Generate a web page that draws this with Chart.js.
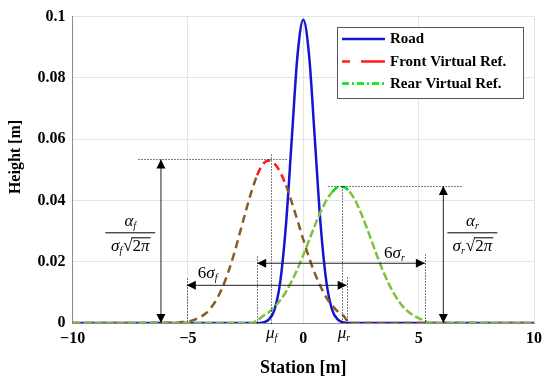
<!DOCTYPE html>
<html>
<head>
<meta charset="utf-8">
<script src="https://cdn.jsdelivr.net/npm/chart.js@4.4.1/dist/chart.umd.min.js"></script>
<style>
  html, body { margin: 0; padding: 0; background: #fff; }
  #wrap { width: 550px; height: 383px; }
</style>
</head>
<body>
<div id="wrap"><canvas id="chart" width="550" height="383"></canvas></div>
<script>
// values (station in m, height in m)
const stations = [-10, -5.5, -5.25, -5, -4.75, -4.5, -4.25, -4, -3.75, -3.5, -3.25, -3, -2.75, -2.5, -2.25,
  -2, -1.75, -1.5, -1.25, -1, -0.75, -0.5, -0.25, 0, 0.25, 0.5, 0.75, 1, 1.25, 1.5, 1.75,
  2, 2.25, 2.5, 2.75, 3, 3.25, 3.5, 3.75, 4, 4.25, 4.5, 4.75, 5, 5.25, 5.5, 10];

const road = [0, 0, 0, 0, 0, 0, 0, 0, 0, 0, 0, 0, 0, 0, 0,
  0, 0.0002, 0.0011, 0.0043, 0.0134, 0.0321, 0.0600, 0.0874, 0.0990, 0.0874, 0.0600, 0.0321, 0.0134, 0.0043, 0.0011, 0.0002,
  0, 0, 0, 0, 0, 0, 0, 0, 0, 0, 0, 0, 0, 0, 0, 0];

const front = [0, 0.0001, 0.0003, 0.0005, 0.0010, 0.0018, 0.0030, 0.0050, 0.0078, 0.0117, 0.0167, 0.0226, 0.0294, 0.0363, 0.0428,
  0.0482, 0.0518, 0.0530, 0.0520, 0.0492, 0.0449, 0.0394, 0.0334, 0.0272, 0.0214, 0.0162, 0.0119, 0.0083, 0.0057, 0.0037, 0.0023,
  0, 0, 0, 0, 0, 0, 0, 0, 0, 0, 0, 0, 0, 0, 0, 0];

const rear = [0, 0, 0, 0, 0, 0, 0, 0, 0, 0, 0, 0, 0, 0, 0,
  0.0008, 0.0023, 0.0035, 0.0052, 0.0074, 0.0102, 0.0137, 0.0177, 0.0222, 0.0270, 0.0318, 0.0362, 0.0400, 0.0427, 0.0443, 0.0444,
  0.0429, 0.0400, 0.0359, 0.0311, 0.0260, 0.0209, 0.0162, 0.0121, 0.0087, 0.0060, 0.0040, 0.0026, 0.0016, 0.0008, 0, 0];

const xTicks = [-10, -5, 0, 5, 10];
const yTicks = [0, 0.02, 0.04, 0.06, 0.08, 0.1];

// annotation anchors (data units)
const muF = -1.42, muR = 1.69;
const peakF = 0.0534, peakR = 0.0447;
const spanF = [-5.05, 1.88], spanFy = 0.0123;
const spanR = [-2.0, 5.27], spanRy = 0.0195;

const serif = '"Liberation Serif", "DejaVu Serif", serif';
const RED = '#ff1a1a', BROWN = '#8a5a24', BLUE = '#1414d2', GREEN = '#00e01a', YGREEN = '#7cc23c';

const pts = arr => stations.map((x, i) => ({ x: x, y: arr[i] }));

const annot = {
  id: 'annot',
  afterDatasetsDraw(chart) {
    const c = chart.ctx, xs = chart.scales.x, ys = chart.scales.y;
    const X = v => xs.getPixelForValue(v), Y = v => ys.getPixelForValue(v);
    c.save();

    const dotted = (x1, y1, x2, y2) => {
      c.beginPath(); c.setLineDash([1, 2]); c.strokeStyle = '#000'; c.lineWidth = 1;
      c.moveTo(Math.round(x1) + 0.5, Math.round(y1) + 0.5); c.lineTo(Math.round(x2) + 0.5, Math.round(y2) + 0.5);
      c.stroke(); c.setLineDash([]);
    };
    const head = (x, y, dx, dy) => {
      // arrowhead with tip at (x,y), pointing in direction (dx,dy)
      const L = 9, W = 4.5;
      c.beginPath(); c.fillStyle = '#000';
      c.moveTo(x, y);
      c.lineTo(x - dx * L - dy * W, y - dy * L + dx * W);
      c.lineTo(x - dx * L + dy * W, y - dy * L - dx * W);
      c.closePath(); c.fill();
    };
    const dblArrow = (x1, y1, x2, y2) => {
      const len = Math.hypot(x2 - x1, y2 - y1), dx = (x2 - x1) / len, dy = (y2 - y1) / len;
      c.beginPath(); c.strokeStyle = '#222'; c.lineWidth = 1;
      c.moveTo(x1, y1); c.lineTo(x2, y2); c.stroke();
      head(x1, y1, -dx, -dy); head(x2, y2, dx, dy);
    };
    const sym = (sx, sy, big, sub, lead) => {
      // lead (upright) + big (italic) + subscript, left-aligned at sx, baseline sy
      c.fillStyle = '#000'; c.textAlign = 'left'; c.textBaseline = 'alphabetic';
      let x = sx;
      if (lead) { c.font = '17px ' + serif; c.fillText(lead, x, sy); x += c.measureText(lead).width; }
      c.font = 'italic 17px ' + serif; c.fillText(big, x, sy); x += c.measureText(big).width;
      c.font = 'italic 10px ' + serif; c.fillText(sub, x, sy + 3); x += c.measureText(sub).width;
      return x - sx;
    };
    const symW = (big, sub, lead) => {
      let w = 0;
      if (lead) { c.font = '17px ' + serif; w += c.measureText(lead).width; }
      c.font = 'italic 17px ' + serif; w += c.measureText(big).width;
      c.font = 'italic 10px ' + serif; w += c.measureText(sub).width;
      return w;
    };
    const frac = (cx, cy, sub) => {
      const nw = symW('α', sub);
      sym(cx - nw / 2, cy - 6, 'α', sub);
      c.beginPath(); c.strokeStyle = '#000'; c.lineWidth = 1;
      c.moveTo(cx - 25, cy + 0.5); c.lineTo(cx + 25, cy + 0.5); c.stroke();
      // denominator: sigma_sub sqrt(2 pi)
      const dw = symW('σ', sub);
      c.font = '17px ' + serif; const rw = c.measureText('√').width;
      const tw2 = c.measureText('2').width;
      c.font = 'italic 17px ' + serif; const tpi = c.measureText('π').width;
      const total = dw + 1 + rw + tw2 + tpi;
      let x = cx - total / 2;
      const by = cy + 19;
      sym(x, by, 'σ', sub); x += dw + 1;
      c.font = '17px ' + serif; c.fillText('√', x, by); x += rw;
      const ox = x;
      c.fillText('2', x, by); x += tw2;
      c.font = 'italic 17px ' + serif; c.fillText('π', x, by); x += tpi;
      c.beginPath(); c.moveTo(ox - 1, by - 13.5); c.lineTo(x + 1, by - 13.5); c.stroke();
    };

    // front reference
    dotted(X(-7.15), Y(peakF), X(-0.75), Y(peakF));
    dotted(X(muF), Y(0.0552), X(muF), Y(0));
    dotted(X(spanF[0]), Y(0.0146), X(spanF[0]), Y(0));
    dotted(X(spanR[0]), Y(0.0220), X(spanR[0]), Y(0));
    dblArrow(X(-6.17), Y(peakF), X(-6.17), Y(0));
    dblArrow(X(spanF[0]), Y(spanFy), X(spanF[1]), Y(spanFy));
    frac(X(-7.5), Y(0.0296), 'f');
    sym(X(-4.05) - 12, Y(0.0168) + 6, 'σ', 'f', '6');

    // rear reference
    dotted(X(1.08), Y(peakR), X(6.92), Y(peakR));
    dotted(X(muR), Y(peakR), X(muR), Y(0));
    dotted(X(spanF[1]), Y(0.0150), X(spanF[1]), Y(0));
    dotted(X(spanR[1]), Y(0.0225), X(spanR[1]), Y(0));
    dblArrow(X(6.07), Y(peakR), X(6.07), Y(0));
    dblArrow(X(spanR[0]), Y(spanRy), X(spanR[1]), Y(spanRy));
    frac(X(7.33), Y(0.0296), 'r');
    sym(X(4.02) - 12, Y(0.0233) + 6, 'σ', 'r', '6');

    // mu labels just under the axis
    const muW = symW('μ', 'f');
    sym(X(muF) - muW / 2 + 1, Y(0) + 15, 'μ', 'f');
    sym(X(muR) - muW / 2 + 1, Y(0) + 15, 'μ', 'r');

    c.restore();
  },
  afterDraw(chart) {
    const c = chart.ctx;
    c.save();
    // y axis title, placed as in the figure (a bit above the plot's centre)
    c.translate(16, 157); c.rotate(-Math.PI / 2);
    c.fillStyle = '#000'; c.font = 'bold 16px ' + serif; c.textAlign = 'center'; c.textBaseline = 'middle';
    c.fillText('Height [m]', 0, 0);
    c.setTransform(1, 0, 0, 1, 0, 0);

    // legend box inside the plot
    c.fillStyle = '#fff'; c.fillRect(337.5, 27.5, 186, 71);
    c.strokeStyle = '#555'; c.lineWidth = 1; c.strokeRect(337.5, 27.5, 186, 71);
    const rows = [
      { label: 'Road', color: BLUE, dash: [] , y: 39 },
      { label: 'Front Virtual Ref.', color: RED, dash: [8, 11, 25], y: 61.5 },
      { label: 'Rear Virtual Ref.', color: GREEN, dash: [7, 3, 2, 3], y: 83.5 }
    ];
    rows.forEach(r => {
      c.beginPath(); c.setLineDash(r.dash); c.strokeStyle = r.color; c.lineWidth = 2.5;
      c.moveTo(342, r.y); c.lineTo(385, r.y); c.stroke(); c.setLineDash([]);
      c.fillStyle = '#000'; c.font = 'bold 15px ' + serif; c.textAlign = 'left'; c.textBaseline = 'middle';
      c.fillText(r.label, 390, r.y + 0.5);
    });
    c.restore();
  }
};

const topColor = (hi, lo, lim) => ctx =>
  (ctx.p0.parsed.y > lim && ctx.p1.parsed.y > lim) ? hi : lo;

const config = {
  type: 'line',
  data: {
    datasets: [
      {
        label: 'Road',
        data: pts(road),
        borderColor: BLUE,
        borderWidth: 2.5,
        order: 3
      },
      {
        label: 'Front Virtual Ref.',
        data: pts(front),
        borderColor: BROWN,
        borderWidth: 2.5,
        borderDash: [8, 5],
        segment: { borderColor: topColor(RED, BROWN, 0.043) },
        order: 2
      },
      {
        label: 'Rear Virtual Ref.',
        data: pts(rear),
        borderColor: YGREEN,
        borderWidth: 2.5,
        borderDash: [8, 3],
        segment: { borderColor: topColor(GREEN, YGREEN, 0.0425) },
        order: 1
      }
    ]
  },
  options: {
    responsive: false,
    animation: false,
    elements: { point: { radius: 0 }, line: { cubicInterpolationMode: 'monotone', fill: false } },
    layout: { padding: { top: 15, right: 16, left: 0, bottom: 0 } },
    plugins: { legend: { display: false }, tooltip: { enabled: false } },
    scales: {
      x: {
        type: 'linear', min: -10, max: 10,
        afterBuildTicks: s => { s.ticks = xTicks.map(v => ({ value: v })); },
        afterFit: s => { s.height = 60; },
        ticks: {
          autoSkip: false, maxRotation: 0, padding: 6,
          color: '#000', font: { family: serif, size: 16, weight: 'bold' },
          callback: v => String(v).replace('-', '\u2212')
        },
        grid: { color: '#e4e4e4', drawTicks: false },
        border: { color: '#8a8a8a' },
        title: { display: true, text: 'Station [m]', color: '#000', padding: { top: 2, bottom: 4 },
                 font: { family: serif, size: 18, weight: 'bold' } }
      },
      y: {
        type: 'linear', min: 0, max: 0.1,
        afterBuildTicks: s => { s.ticks = yTicks.map(v => ({ value: v })); },
        afterFit: s => { s.width = 72.6; },
        ticks: {
          padding: 7, color: '#000', font: { family: serif, size: 16, weight: 'bold' },
          callback: v => String(+v.toFixed(2))
        },
        grid: { color: '#e4e4e4', drawTicks: false },
        border: { color: '#8a8a8a' }
      }
    }
  },
  plugins: [annot]
};

const myChart = new Chart(document.getElementById('chart'), config);
</script>
</body>
</html>
